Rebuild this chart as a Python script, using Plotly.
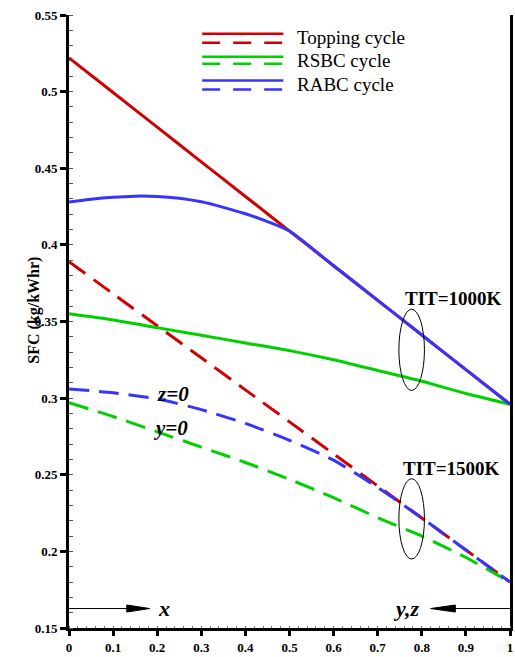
import plotly.graph_objects as go

# ---------------- data ----------------
x_grid = [0.0, 0.1, 0.2, 0.3, 0.4, 0.5, 0.6, 0.7, 0.8, 0.9, 1.0]
x_fine = [0.0, 0.05, 0.1, 0.15, 0.2, 0.25, 0.3, 0.35, 0.4, 0.45, 0.5,
          0.6, 0.7, 0.8, 0.9, 1.0]

topping_1000 = [0.522, 0.4994, 0.4768, 0.4542, 0.4316, 0.409, 0.3864, 0.3638, 0.3412, 0.3186, 0.296]
topping_1500 = [0.389, 0.3681, 0.3472, 0.3263, 0.3054, 0.2845, 0.2636, 0.2427, 0.2218, 0.2009, 0.180]
rsbc_1000 = [0.355, 0.351, 0.346, 0.341, 0.336, 0.331, 0.325, 0.318, 0.311, 0.303, 0.296]
rsbc_1500 = [0.297, 0.288, 0.278, 0.268, 0.258, 0.247, 0.235, 0.222, 0.210, 0.196, 0.180]
rabc_1000 = [0.428, 0.4298, 0.4311, 0.4318, 0.4316, 0.4304, 0.4281, 0.4245, 0.4203, 0.4152, 0.4090,
             0.3864, 0.3638, 0.3412, 0.3186, 0.296]
rabc_1500 = [0.306, 0.3035, 0.2995, 0.2925, 0.2835, 0.2725, 0.2595, 0.2417, 0.2218, 0.2009, 0.180]

legend_names = ["Topping cycle", "RSBC cycle", "RABC cycle"]
RED, GREEN, BLUE = "#d10000", "#00d000", "#3535ff"
legend_colors = [RED, GREEN, BLUE]

y_ticks = [0.15, 0.2, 0.25, 0.3, 0.35, 0.4, 0.45, 0.5, 0.55]
y_ticklabels = ["0.15", "0.2", "0.25", "0.3", "0.35", "0.4", "0.45", "0.5", "0.55"]
x_ticks = [0, 0.1, 0.2, 0.3, 0.4, 0.5, 0.6, 0.7, 0.8, 0.9, 1]
x_ticklabels = ["0", "0.1", "0.2", "0.3", "0.4", "0.5", "0.6", "0.7", "0.8", "0.9", "1"]

SERIF = "Liberation Serif"
DASH = "20px,10px"

fig = go.Figure()

def add(x, y, color, dash):
    fig.add_trace(go.Scatter(x=x, y=y, mode="lines", showlegend=False,
                             line=dict(color=color, width=3, dash=dash, shape="spline", smoothing=0.6)))

add(x_grid, topping_1000, RED, "solid")
add(x_grid, topping_1500, RED, DASH)
add(x_grid, rsbc_1000, GREEN, "solid")
add(x_grid, rsbc_1500, GREEN, DASH)
add(x_fine, rabc_1000, BLUE, "solid")
add(x_grid, rabc_1500, BLUE, DASH)

# ---------------- manual legend (solid + dashed sample per entry) ----------------
leg_x0, leg_x1 = 0.302, 0.486
leg_rows_solid = [0.5377, 0.5228, 0.5072]
leg_rows_dash = [0.5319, 0.5182, 0.5014]
leg_text_y = [0.5351, 0.5200, 0.5046]
for name, col, ys, yd, yt in zip(legend_names, legend_colors, leg_rows_solid, leg_rows_dash, leg_text_y):
    fig.add_shape(type="line", xref="x", yref="y", x0=leg_x0, x1=leg_x1, y0=ys, y1=ys,
                  line=dict(color=col, width=2.5))
    fig.add_shape(type="line", xref="x", yref="y", x0=leg_x0, x1=leg_x1, y0=yd, y1=yd,
                  line=dict(color=col, width=2.5, dash="18px,13px"))
    fig.add_annotation(x=0.5135, y=yt, xref="x", yref="y", text=name, showarrow=False,
                       xanchor="left", yanchor="middle",
                       font=dict(family=SERIF, size=19, color="black"))

# ---------------- ellipses + labels ----------------
fig.add_shape(type="circle", xref="x", yref="y", x0=0.748, x1=0.806, y0=0.305, y1=0.358,
              line=dict(color="black", width=1))
fig.add_shape(type="circle", xref="x", yref="y", x0=0.748, x1=0.806, y0=0.195, y1=0.2474,
              line=dict(color="black", width=1))
bold = dict(family=SERIF, color="black", weight="bold")
fig.add_annotation(x=0.8716, y=0.3653, text="TIT=1000K", showarrow=False,
                   font=dict(bold, size=19))
fig.add_annotation(x=0.867, y=0.2539, text="TIT=1500K", showarrow=False,
                   font=dict(bold, size=19))
fig.add_annotation(x=0.2365, y=0.3025, text="z=0", showarrow=False,
                   font=dict(bold, size=21, style="italic"))
fig.add_annotation(x=0.2297, y=0.2804, text="y=0", showarrow=False,
                   font=dict(bold, size=21, style="italic"))

# ---------------- direction arrows ----------------
arr_y = 0.1627
hh = 0.0023
fig.add_shape(type="line", xref="x", yref="y", x0=0.0, x1=0.14, y0=arr_y, y1=arr_y,
              line=dict(color="black", width=1))
fig.add_shape(type="path", xref="x", yref="y",
              path=f"M 0.131 {arr_y-hh} L 0.183 {arr_y} L 0.131 {arr_y+hh} Z",
              fillcolor="black", line=dict(color="black", width=1))
fig.add_shape(type="line", xref="x", yref="y", x0=0.86, x1=1.0, y0=arr_y, y1=arr_y,
              line=dict(color="black", width=1))
fig.add_shape(type="path", xref="x", yref="y",
              path=f"M 0.876 {arr_y-hh} L 0.820 {arr_y} L 0.876 {arr_y+hh} Z",
              fillcolor="black", line=dict(color="black", width=1))
fig.add_annotation(x=0.216, y=arr_y, text="x", showarrow=False,
                   font=dict(bold, size=22, style="italic"))
fig.add_annotation(x=0.7635, y=arr_y, text="y,z", showarrow=False,
                   font=dict(bold, size=22, style="italic"))

# y-axis title
fig.add_annotation(x=-0.106, y=0.5, xref="paper", yref="paper", yshift=11,
                   text="SFC (kg/kWhr)", textangle=-90, showarrow=False,
                   font=dict(bold, size=16))

tickfont = dict(family=SERIF, size=13, color="black", weight="bold")

fig.update_layout(
    width=515, height=657,
    margin=dict(l=69, r=2, t=15, b=25),
    paper_bgcolor="white", plot_bgcolor="white",
    showlegend=False,
    xaxis=dict(range=[0, 1], tickvals=x_ticks, ticktext=x_ticklabels, showgrid=False, zeroline=False,
               showline=True, linecolor="black", linewidth=3, mirror=False,
               ticks="outside", ticklen=5, tickwidth=3, tickcolor="black", tickfont=tickfont,
               minor=dict(dtick=0.02, ticks="inside", ticklen=2, tickwidth=1, tickcolor="#777", showgrid=False)),
    yaxis=dict(range=[0.15, 0.55], tickvals=y_ticks, ticktext=y_ticklabels, showgrid=False, zeroline=False,
               showline=True, linecolor="black", linewidth=3, mirror=True,
               ticks="outside", ticklen=6, tickwidth=3, tickcolor="black", tickfont=tickfont,
               minor=dict(dtick=0.01, ticks="inside", ticklen=4, tickwidth=1, tickcolor="#555", showgrid=False)),
    xaxis2=dict(range=[0, 1], overlaying="x", anchor="y", side="bottom", tickvals=x_ticks,
                showticklabels=False, showgrid=False, zeroline=False, showline=False,
                ticks="inside", ticklen=5, tickwidth=3, tickcolor="black"),
    yaxis2=dict(range=[0.15, 0.55], overlaying="y", anchor="x", side="left", tickvals=y_ticks,
                showticklabels=False, showgrid=False, zeroline=False, showline=False,
                ticks="inside", ticklen=6, tickwidth=3, tickcolor="black"),
)

fig.write_html("out.html")
